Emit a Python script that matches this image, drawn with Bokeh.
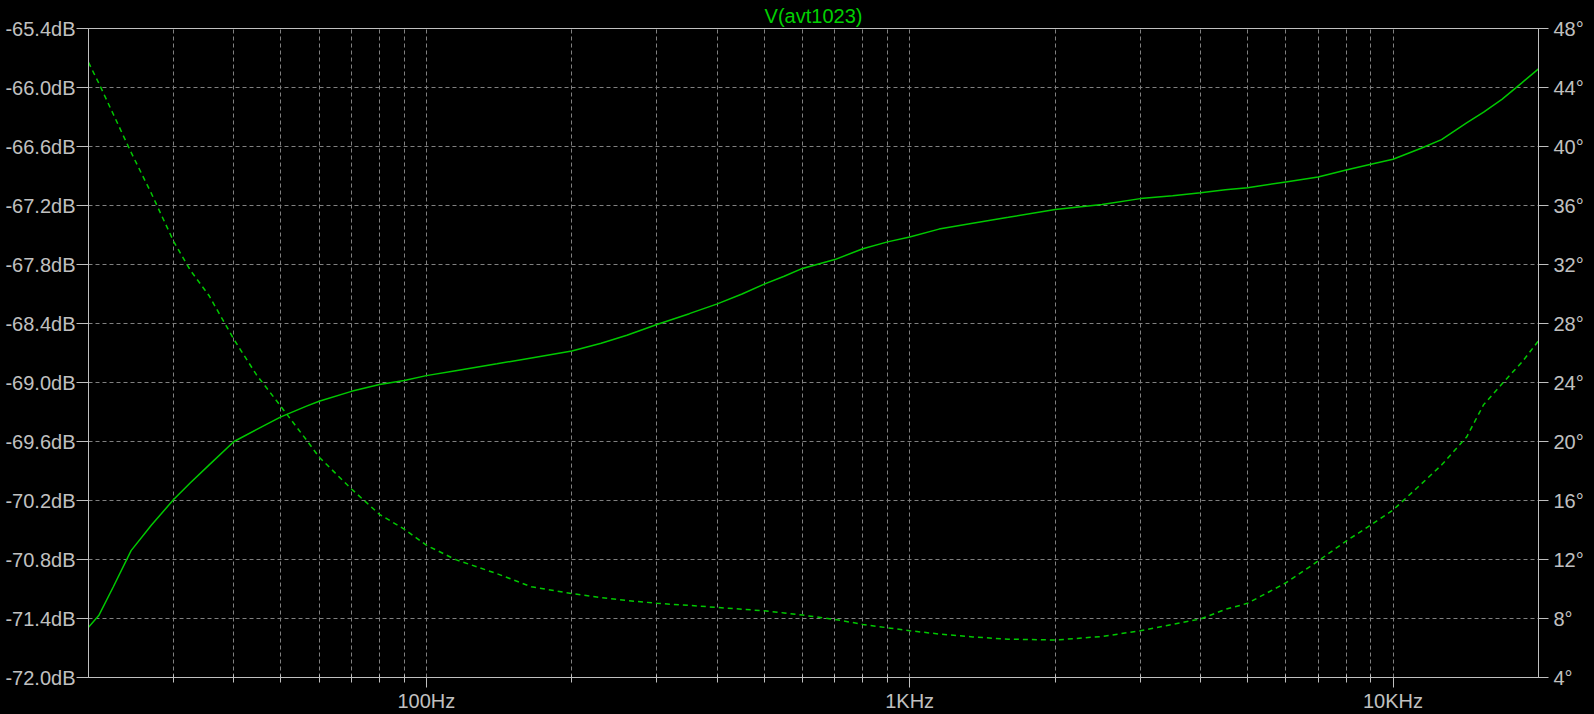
from bokeh.plotting import figure
from bokeh.models import (ColumnDataSource, LinearAxis, Range1d, FixedTicker,
                          PrintfTickFormatter)
from bokeh.embed import file_html
from bokeh.resources import INLINE

freq_hz = [20, 21, 22.5, 24.5, 27, 30, 32.5, 35.5, 40, 44.5, 50, 56.5, 60, 70, 80, 90,
           100, 115, 140, 165, 200, 230, 260, 300, 350, 400, 450, 500, 550, 600, 700,
           800, 900, 1000, 1150, 1350, 1600, 2000, 2500, 3000, 3500, 4000, 4500, 5000,
           6000, 7000, 8000, 9000, 10000, 11400, 12600, 14200, 15400, 16800, 18500, 20000]
mag_db = [-71.49, -71.37, -71.08, -70.71, -70.45, -70.19, -70.02, -69.84, -69.60, -69.48,
          -69.35, -69.24, -69.19, -69.09, -69.02, -68.98, -68.93, -68.88, -68.81, -68.75,
          -68.68, -68.60, -68.52, -68.41, -68.30, -68.20, -68.10, -68.00, -67.92, -67.84,
          -67.75, -67.64, -67.57, -67.52, -67.44, -67.38, -67.32, -67.24, -67.19, -67.13,
          -67.10, -67.07, -67.04, -67.02, -66.96, -66.91, -66.84, -66.78, -66.73, -66.62,
          -66.53, -66.36, -66.25, -66.12, -65.95, -65.81]
phase_deg = [45.70, 44.3, 42.2, 39.6, 36.8, 33.57, 31.6, 29.9, 26.91, 24.53, 22.38, 20.1,
             18.94, 16.78, 15.06, 14.06, 12.97, 11.99, 11.04, 10.15, 9.69, 9.42, 9.22,
             9.03, 8.89, 8.75, 8.63, 8.52, 8.38, 8.23, 7.94, 7.60, 7.37, 7.17, 6.95, 6.75,
             6.60, 6.54, 6.78, 7.17, 7.60, 7.97, 8.62, 9.03, 10.41, 11.90, 13.25, 14.34,
             15.35, 17.07, 18.4, 20.3, 22.5, 23.9, 25.4, 26.82]

db_ticks = [-72.0, -71.4, -70.8, -70.2, -69.6, -69.0, -68.4, -67.8, -67.2, -66.6, -66.0, -65.4]
deg_ticks = [4, 8, 12, 16, 20, 24, 28, 32, 36, 40, 44, 48]
freq_ticks = [100, 1000, 10000]
freq_labels = ["100Hz", "1KHz", "10KHz"]
freq_minor = [m * d for d in (10, 100, 1000) for m in range(2, 10) if 20 < m * d < 20000]

GREEN = "#00c800"
GREY = "#c0c0c0"
GRID = "#808080"
FONT = "Liberation Sans"

src = ColumnDataSource(dict(f=freq_hz, mag=mag_db, ph=phase_deg))

p = figure(width=1594, height=714, x_axis_type="log",
           x_range=(20, 20000), y_range=(-72.0, -65.4),
           title="V(avt1023)",
           output_backend="svg", toolbar_location=None,
           min_border_left=88, min_border_right=56, min_border_top=27, min_border_bottom=37,
           background_fill_color="black", border_fill_color="black",
           outline_line_color=GREY)
p.extra_y_ranges = {"deg": Range1d(4, 48)}

p.title.align = "center"
p.title.text_color = "#00d000"
p.title.text_font = FONT
p.title.text_font_size = "20px"
p.title.text_font_style = "normal"
p.title.standoff = 4
p.title.offset = 0

p.line("f", "mag", source=src, color=GREEN, line_width=1.5)
p.line("f", "ph", source=src, color=GREEN, line_width=1.5, line_dash="5 4",
       y_range_name="deg")

# x axis
xa = p.xaxis[0]
xa.ticker = FixedTicker(ticks=freq_ticks, minor_ticks=freq_minor)
xa.major_label_overrides = dict(zip(freq_ticks, freq_labels))
xa.major_tick_in = 0
xa.major_tick_out = 10
xa.minor_tick_in = 3
xa.minor_tick_out = 5
xa.major_label_standoff = 2

# left axis
ya = p.yaxis[0]
ya.ticker = FixedTicker(ticks=db_ticks)
ya.formatter = PrintfTickFormatter(format="%.1fdB")
ya.major_tick_in = 0
ya.major_tick_out = 12
ya.major_label_standoff = 1

# right axis (phase)
ra = LinearAxis(y_range_name="deg", ticker=FixedTicker(ticks=deg_ticks),
                formatter=PrintfTickFormatter(format="%d°"))
ra.major_tick_in = 0
ra.major_tick_out = 10
ra.major_label_standoff = 5
p.add_layout(ra, "right")

for ax in (xa, ya, ra):
    ax.axis_line_color = GREY
    ax.major_tick_line_color = GREY
    ax.minor_tick_line_color = GREY if ax is xa else None
    ax.major_label_text_color = GREY
    ax.major_label_text_font = FONT
    ax.major_label_text_font_size = "20px"

p.xgrid.grid_line_color = GRID
p.xgrid.grid_line_dash = "4 3"
p.xgrid.minor_grid_line_color = GRID
p.xgrid.minor_grid_line_dash = "4 3"
p.ygrid.grid_line_color = GRID
p.ygrid.grid_line_dash = "4 3"

html = file_html(p, INLINE).replace("<body>", '<body style="background-color:#000000;">')
open("out.html", "w").write(html)
